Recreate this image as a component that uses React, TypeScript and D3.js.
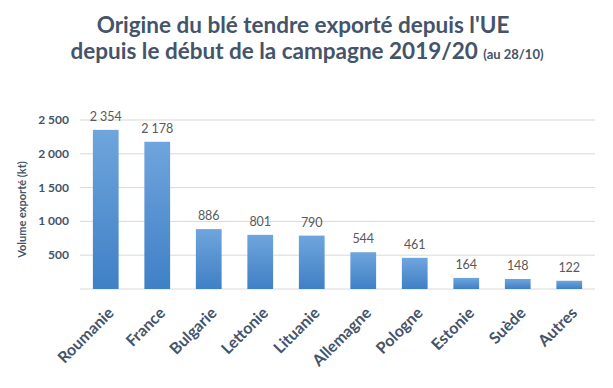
import { scaleBand, scaleLinear, format } from 'd3';

const categories = ['Roumanie', 'France', 'Bulgarie', 'Lettonie', 'Lituanie', 'Allemagne', 'Pologne', 'Estonie', 'Suède', 'Autres'];
const volumes = [2354, 2178, 886, 801, 790, 544, 461, 164, 148, 122];
const yTicks = [500, 1000, 1500, 2000, 2500];

const WIDTH = 613;
const HEIGHT = 388;
const PLOT = { left: 80, right: 595, top: 120, bottom: 289 };
const FONT = 'Lato, "Open Sans", sans-serif';
const TITLE_COLOR = '#44546a';
const GRID_COLOR = '#d9d9d9';

const thousands = format(',');
const frNumber = (value: number) => thousands(value).replace(/,/g, '\u202f');

export default function App() {
  const x = scaleBand<string>().domain(categories).range([PLOT.left, PLOT.right]).paddingInner(0.5).paddingOuter(0.25);
  const y = scaleLinear().domain([0, 2500]).range([PLOT.bottom, PLOT.top]);

  return (
    <svg
      width={WIDTH}
      height={HEIGHT}
      viewBox={`0 0 ${WIDTH} ${HEIGHT}`}
      style={{ position: 'absolute', left: 0, top: 0, background: '#ffffff', fontFamily: FONT }}
    >
      <defs>
        <linearGradient id="barFill" x1="0" x2="0" y1="0" y2="1">
          <stop offset="0%" stopColor="#6fa5dc" />
          <stop offset="100%" stopColor="#3f80c6" />
        </linearGradient>
      </defs>

      <text x={303} y={33} textAnchor="middle" fontSize={22.5} fontWeight={700} fill={TITLE_COLOR}>
        Origine du blé tendre exporté depuis l'UE
      </text>
      <text x={307} y={59} textAnchor="middle" fontWeight={700} fill={TITLE_COLOR}>
        <tspan fontSize={22.5}>depuis le début de la campagne 2019/20 </tspan>
        <tspan fontSize={13}>(au 28/10)</tspan>
      </text>

      <g>
        {[0, ...yTicks].map((tick) => (
          <line key={tick} x1={PLOT.left} x2={PLOT.right} y1={y(tick)} y2={y(tick)} stroke={GRID_COLOR} strokeWidth={1} />
        ))}
        {yTicks.map((tick) => (
          <text key={tick} x={69} y={y(tick) + 4} textAnchor="end" fontSize={12} fontWeight={700} fill={TITLE_COLOR}>
            {frNumber(tick)}
          </text>
        ))}
      </g>

      <text
        transform={`translate(26 ${(PLOT.top + PLOT.bottom) / 2 + 5}) rotate(-90)`}
        textAnchor="middle"
        fontSize={11}
        fontWeight={700}
        fill={TITLE_COLOR}
      >
        Volume exporté (kt)
      </text>

      <g>
        {categories.map((name, i) => {
          const x0 = x(name) ?? 0;
          const value = volumes[i];
          return (
            <g key={name}>
              <rect x={x0} y={y(value)} width={x.bandwidth()} height={y(0) - y(value)} fill="url(#barFill)" />
              <text
                x={x0 + x.bandwidth() / 2}
                y={y(value) - 9}
                textAnchor="middle"
                fontSize={12.5}
                fill="#595959"
              >
                {frNumber(value)}
              </text>
              <text
                transform={`translate(${x0 + x.bandwidth() / 2 + 9} ${PLOT.bottom + 25}) rotate(-45)`}
                textAnchor="end"
                fontSize={16}
                fontWeight={700}
                fill={TITLE_COLOR}
              >
                {name}
              </text>
            </g>
          );
        })}
      </g>
    </svg>
  );
}
